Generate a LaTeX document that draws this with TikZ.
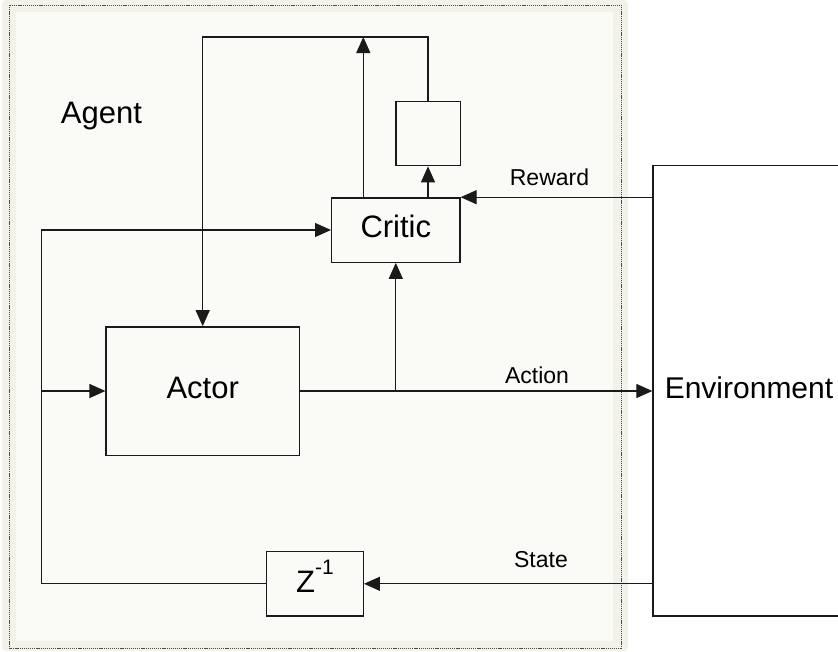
\documentclass[tikz,border=0pt]{standalone}
\usepackage{fontspec}
\setmainfont{Liberation Sans}
\usetikzlibrary{arrows.meta}
\definecolor{panelout}{HTML}{F2F1EA}
\definecolor{panelin}{HTML}{FAFAF7}
\definecolor{ink}{HTML}{1A1A1A}
\begin{document}
\begin{tikzpicture}[x=1pt,y=-1pt,
  wire/.style={draw=ink,line width=1.2pt},
  flow/.style={wire,-{Triangle[length=16pt,width=14pt]}},
  block/.style={draw=ink,line width=1.3pt,rectangle,inner sep=0pt,
    font=\fontsize{31}{31}\selectfont,text height=22.2pt,text depth=8pt},
  tag/.style={anchor=base,inner sep=0pt,font=\fontsize{23}{23}\selectfont}]
\useasboundingbox (0,0) rectangle (838,651);
\clip (0,0) rectangle (838,651);

% agent panel
\fill[panelout,rounded corners=4pt] (2,0) rectangle (628,651);
\fill[panelin] (16,12) rectangle (613,641);
\draw[gray!60!black,line width=0.9pt,dash pattern=on 1.2pt off 0.9pt] (9.5,5) rectangle (621,648);

% blocks
\node[block,minimum width=193.3pt,minimum height=128.3pt] (actor) at (202.7,391) {Actor};
\node[block,minimum width=128.3pt,minimum height=64.3pt] (critic) at (395.8,230) {Critic};
\node[block,minimum width=64.3pt,minimum height=64pt] (memo) at (428,133.7) {};
\node[block,minimum width=96.6pt,minimum height=64.3pt,text depth=4pt] (delay) at (315,583.8)
  {Z\raisebox{18pt}{\fontsize{21}{21}\selectfont -1}};
\node[block,fill=white,minimum width=192pt,minimum height=450.3pt,
  font=\fontsize{30}{30}\selectfont] (env) at (749,390.9) {Environment};

% routing helpers
\coordinate (bus) at (0,37);
\coordinate (rail) at (41.7,0);

% signal flow
\draw[flow] (actor.east) -- (actor.east -| env.west);
\draw[flow] (critic.south |- actor.east) -- (critic.south);
\draw[flow] (critic.north east -| env.west) -- (critic.north east);
\draw[flow] ([xshift=-32.5pt]critic.north) -- ([xshift=-32.5pt]critic.north |- bus);
\draw[flow] (memo.south |- critic.north) -- (memo.south);
\draw[flow] (memo.north) |- (actor.north |- bus) -- (actor.north);
\draw[flow] (delay.east -| env.west) -- (delay.east);
\draw[flow] (delay.west) -- (delay.west -| rail) |- (critic.west);
\draw[flow] (rail |- actor.west) -- (actor.west);

% labels
\node[tag,font=\fontsize{31}{31}\selectfont] (agentlbl) at (101.4,123.3) {Agent};
\node[tag] (rewardlbl) at (549.5,185) {Reward};
\node[tag] (actionlbl) at (537,383.3) {Action};
\node[tag] (statelbl) at (541,567.7) {State};
\end{tikzpicture}
\end{document}
